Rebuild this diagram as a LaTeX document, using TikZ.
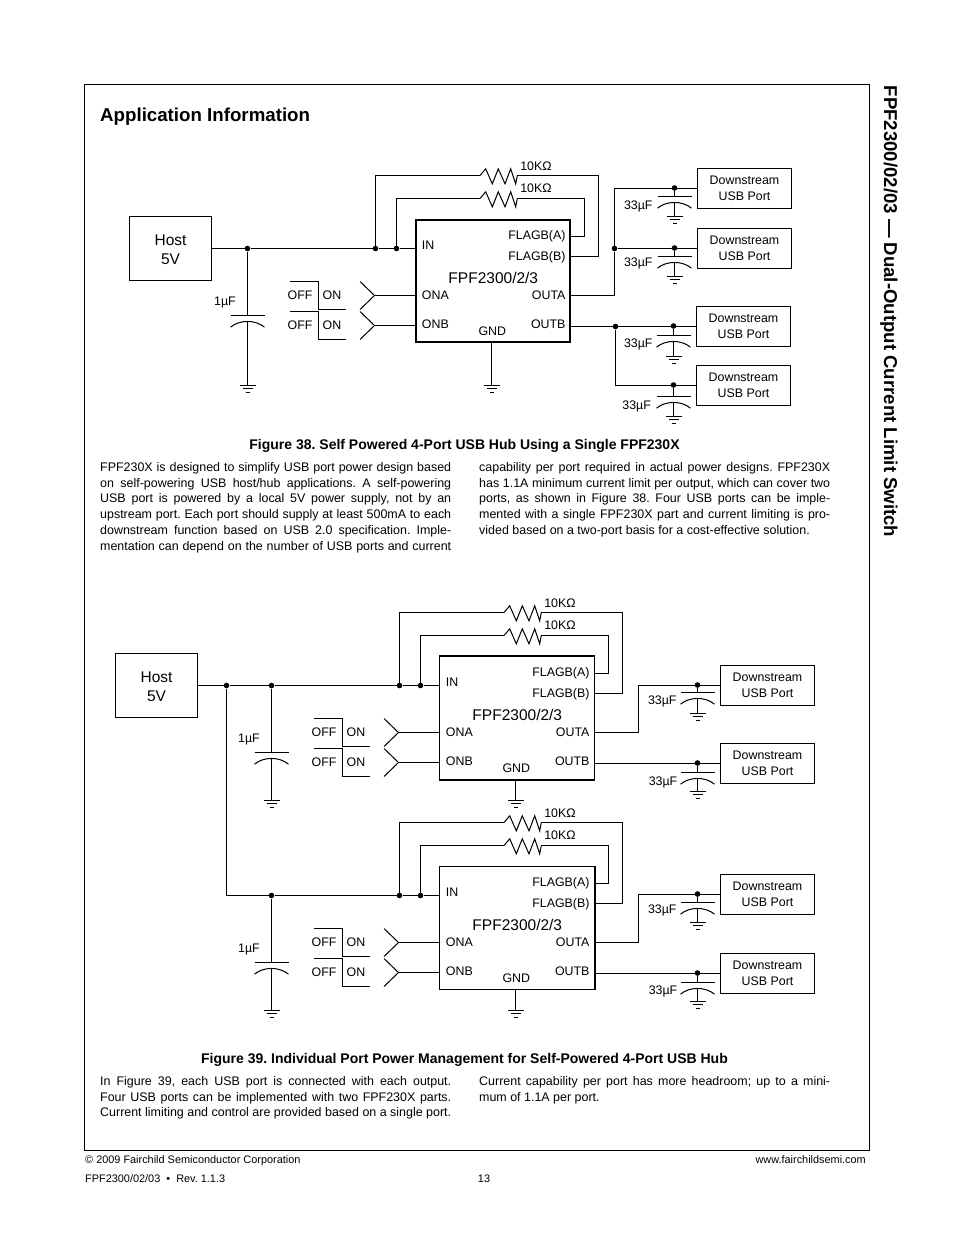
\documentclass[tikz,border=0pt]{standalone}
\usepackage{fontspec}
\setmainfont{Liberation Sans}
\usepackage{tikz}
\usetikzlibrary{positioning}
\frenchspacing

% name, shift x, shift y, ground y, chip border and size
\newcommand{\hubchip}[5]{%
\begin{scope}[shift={(#2,#3)}]
  \node[chip,#5] (#1) at (493,281) {};
  \node[pin,anchor=west]  (#1in)  at (421.7,245.7) {IN};
  \node[pin,anchor=west]  (#1ona) at (421.7,295)   {ONA};
  \node[pin,anchor=west]  (#1onb) at (421.7,324.7) {ONB};
  \node[pin,anchor=east]  (#1fla) at (565.7,235.8) {FLAGB(A)};
  \node[pin,anchor=east]  (#1flb) at (565.7,256.8) {FLAGB(B)};
  \node[pin,anchor=east]  (#1oua) at (565.7,295)   {OUTA};
  \node[pin,anchor=east]  (#1oub) at (565.7,324.7) {OUTB};
  \node[pin]              (#1gnd) at (492.3,331)   {GND};
  \node[big]              (#1nam) at (493.3,278.3) {FPF2300/2/3};
  \coordinate (#1vin) at (415.5,248.5);
  \coordinate (#1fa)  at (570,236.5);
  \coordinate (#1fb)  at (570,256.5);
  \coordinate (#1oa)  at (570,295.5);
  \coordinate (#1ob)  at (570,326.5);
  \node[dot] (#1d1) at (375.5,248.5) {};
  \node[dot] (#1d2) at (396.5,248.5) {};
  \pic (#1r1) at (480,175.5) {resistor};
  \pic (#1r2) at (480,198.5) {resistor};
  \node[pin] (#1v1) at (536,166) {10KΩ};
  \node[pin] (#1v2) at (536,188) {10KΩ};
  \draw[wire] (#1d1) -- (#1d2) -- (#1vin);
  \draw[wire] (#1d1) |- (#1r1-l);
  \draw[wire] (#1d2) |- (#1r2-l);
  \draw[wire] (#1r1-r) -| (598.5,256.5) -- (#1fb);
  \draw[wire] (#1r2-r) -| (584.5,236.5) -- (#1fa);
  % switches
  \foreach \s/\y/\p in {a/281.5/ona,b/311.5/onb} {
    \coordinate (#1s\s) at (290,\y);
    \coordinate (#1e\s) at (345.5,\y+28);
    \draw[wire] (#1s\s) -- ++(28.5,0) |- (#1e\s);
    \coordinate (#1k\s) at (360,\y);
    \coordinate (#1m\s) at (374.5,\y+14);
    \coordinate (#1n\s) at (360,\y+28);
    \draw[wire] (#1k\s) -- (#1m\s) -- (#1n\s);
    \draw[wire] (#1m\s) -- (#1.west |- #1m\s);
    \node[pin] (#1off\s) at (300,\y+13.5) {OFF};
    \node[pin] (#1on\s)  at (332,\y+13.5) {ON};
  }
  \pic (#1g) at (491.5,#4) {ground};
  \draw[wire] (#1.south -| #1g-top) -- (#1g-top);
\end{scope}}

\begin{document}
\begin{tikzpicture}[x=1pt,y=-1pt,
    wire/.style={line width=1pt},
    lbl/.style={inner sep=0pt,font=\fontsize{12.4}{15.7}\selectfont},
    pin/.style={lbl},
    big/.style={inner sep=0pt,font=\fontsize{15.5}{19}\selectfont,align=center},
    chip/.style={draw,inner sep=0pt},
    chipa/.style={line width=2pt,minimum width=154pt,minimum height=122pt},
    chipb/.style={line width=1pt,minimum width=155pt,minimum height=123pt},
    hostbox/.style={big,draw,line width=1pt,minimum width=82pt,minimum height=64pt},
    port/.style={lbl,draw,line width=1pt,align=center,minimum width=94pt,minimum height=40pt},
    dot/.style={circle,fill,inner sep=0pt,minimum size=5.6pt},
    edge2/.style={line width=2pt},
    body/.style={inner sep=0pt,anchor=north west,text width=351pt,align=justify,
                 font=\fontsize{12.45}{15.8}\selectfont},
    caption/.style={inner sep=0pt,font=\fontsize{14}{16}\bfseries\selectfont},
    foot/.style={inner sep=0pt,font=\fontsize{10.9}{13}\selectfont},
    resistor/.pic={
      \coordinate (-l) at (0,0);
      \coordinate (-r) at (37.3,0);
      \draw[wire] (0,0) -- (5.7,-6.7) -- (12.3,8.3) -- (18.3,-6.7) -- (25,8.3)
                  -- (30.7,-6.7) -- (35.7,8.3) -- (37.3,0);},
    cap/.pic={
      \coordinate (-top) at (0,0);
      \coordinate (-bot) at (0,5.5);
      \draw[wire] (-17,0) -- (17,0);
      \draw[wire] (-17,11.7) .. controls (-8,4) and (8,4) .. (17,11.7);},
    ground/.pic={
      \coordinate (-top) at (0,0);
      \draw[wire] (-8,0) -- (8,0);
      \draw[wire] (-5,3) -- (5,3);
      \draw[wire] (-2,7) -- (2,7);}]
  \useasboundingbox (0,0) rectangle (954,1235);

  % page
  \draw[line width=1pt] (84.5,84.5) rectangle (869.5,1150.5);
  \node[inner sep=0pt,anchor=west,font=\fontsize{18.7}{22}\bfseries\selectfont]
       (title) at (100,116.5) {Application Information};
  \node[inner sep=0pt,anchor=west,rotate=-90,font=\fontsize{18.6}{22}\bfseries\selectfont]
       (side) at (889,85.5) {FPF2300/02/03 --- Dual-Output Current Limit Switch};

  % figure 38
  \node[hostbox] (H) at (170.5,248.5) {\rule{0pt}{13.5pt}Host\\5V};
  \hubchip{U}{0}{0}{385.5}{chipa}
  \node[dot] (Ud0) at (247.5,248.5) {};
  \pic (Uc) at (247.5,315.5) {cap};
  \pic (Ug0) at (247.5,385.5) {ground};
  \node[pin] (Ucv) at (225,302.7) {1µF};
  \draw[wire] (H) -- (Ud0) -- (Ud1);
  \draw[wire] (Ud0) -- (Uc-top);
  \draw[wire] (Uc-bot) -- (Ug0-top);

  \foreach \n/\cx/\wy/\py/\gy/\lx/\ly in {
      p1/674.5/188.5/196.5/216.5/638.3/206,
      p2/674.5/248.5/256.5/276.5/638.3/263.3,
      p3/673.5/326.5/335.5/356.5/638.3/344.3,
      p4/673.5/385.5/396.5/416.5/636.7/406.7,
      q1/697.5/685.5/692.5/713.5/662.3/701,
      q2/697.5/763.5/772.5/791.5/663/782,
      q3/697.5/894.5/902.5/922.5/662.3/910.3,
      q4/697.5/973.5/982.5/1001.5/663/991.7} {
    \node[port] (\n) at (\cx+70,\wy) {Downstream\\USB Port};
    \node[dot] (k\n) at (\cx,\wy-.5) {};
    \pic (c\n) at (\cx,\py) {cap};
    \pic (g\n) at (\cx,\gy) {ground};
    \node[pin] (v\n) at (\lx,\ly) {33µF};
    \draw[wire] (k\n) -- (c\n-top);
    \draw[wire] (c\n-bot) -- (g\n-top);
  }
  \node[dot] (Ud5) at (614.5,248.5) {};
  \node[dot] (Ud7) at (615.5,326.5) {};
  \draw[wire] (Uoa) -| (Ud5) |- (p1.west);
  \draw[wire] (Ud5) -- (p2.west);
  \draw[wire] (Uob) -- (p3.west);
  \draw[wire] (Ud7) |- (p4.west);

  \node[caption] (cap38) at (464.5,446) {Figure 38. Self Powered 4-Port USB Hub Using a Single FPF230X};
  \node[body] (t1) at (100,462) {FPF230X is designed to simplify USB port power design based\linebreak
    on self-powering USB host/hub applications. A self-powering\linebreak
    USB port is powered by a local 5V power supply, not by an\linebreak
    upstream port. Each port should supply at least 500mA to each\linebreak
    downstream function based on USB 2.0 specification. Imple-\linebreak
    mentation can depend on the number of USB ports and current\linebreak};
  \node[body] (t2) at (479,462) {capability per port required in actual power designs. FPF230X\linebreak
    has 1.1A minimum current limit per output, which can cover two\linebreak
    ports, as shown in Figure 38. Four USB ports can be imple-\linebreak
    mented with a single FPF230X part and current limiting is pro-\linebreak
    vided based on a two-port basis for a cost-effective solution.};

  % figure 39
  \node[hostbox] (H2) at (156.5,685.5) {\rule{0pt}{13.5pt}Host\\5V};
  \hubchip{A}{24}{437}{363.5}{chipb}
  \hubchip{B}{24}{647}{363.5}{chipb}
  \draw[edge2] (A.north west) -- (A.north east);
  \draw[edge2] (A.south west) -- (A.south east);
  \draw[edge2] (B.north east) -- (B.south east);
  \node[dot] (Ad9) at (226.5,685.5) {};
  \node[dot] (Ad0) at (271.5,685.5) {};
  \node[dot] (Bd0) at (271.5,895.5) {};
  \pic (Ac) at (271.5,752.5) {cap};
  \pic (Bc) at (271.5,962.5) {cap};
  \pic (Ag0) at (271.5,800.5) {ground};
  \pic (Bg0) at (271.5,1010.5) {ground};
  \node[pin] (Acv) at (249,740) {1µF};
  \node[pin] (Bcv) at (249,950) {1µF};
  \draw[wire] (H2) -- (Ad9) -- (Ad0) -- (Ad1);
  \draw[wire] (Ad9) |- (Bd0) -- (Bd1);
  \draw[wire] (Ad0) -- (Ac-top);
  \draw[wire] (Bd0) -- (Bc-top);
  \draw[wire] (Ac-bot) -- (Ag0-top);
  \draw[wire] (Bc-bot) -- (Bg0-top);
  \draw[wire] (Aoa) -| (638.5,685.5) -- (q1.west);
  \draw[wire] (Aob) -- (q2.west);
  \draw[wire] (Boa) -| (638.5,894.5) -- (q3.west);
  \draw[wire] (Bob) -- (q4.west);

  \node[caption] (cap39) at (464.5,1060) {Figure 39. Individual Port Power Management for Self-Powered 4-Port USB Hub};
  \node[body] (t3) at (100,1076) {In Figure 39, each USB port is connected with each output.\linebreak
    Four USB ports can be implemented with two FPF230X parts.\linebreak
    Current limiting and control are provided based on a single port.\linebreak};
  \node[body] (t4) at (479,1076) {Current capability per port has more headroom; up to a mini-\linebreak
    mum of 1.1A per port.};

  % footer
  \node[foot,anchor=base west] (f1) at (85,1163) {© 2009 Fairchild Semiconductor Corporation};
  \node[foot,anchor=base east] (f2) at (866,1163) {www.fairchildsemi.com};
  \node[foot,anchor=base west] (f3) at (85,1182) {FPF2300/02/03 \ • \ Rev. 1.1.3};
  \node[foot,anchor=base] (f4) at (484,1182) {13};
\end{tikzpicture}
\end{document}
